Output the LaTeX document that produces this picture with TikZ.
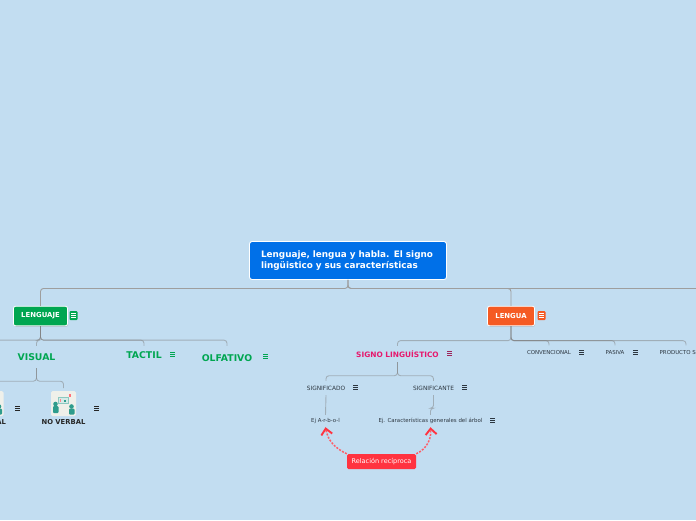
\documentclass[tikz,border=0pt]{standalone}
\usepackage{fontspec}
\setmainfont{DejaVu Sans}
\usetikzlibrary{arrows.meta,shadows}
\definecolor{fondo}{HTML}{C2DDF1}
\definecolor{azul}{HTML}{0070E8}
\definecolor{verde}{HTML}{00A651}
\definecolor{naranja}{HTML}{F55A23}
\definecolor{rosa}{HTML}{E6186D}
\definecolor{rojo}{HTML}{FF3340}
\definecolor{gris}{HTML}{2C3640}
\definecolor{teal}{HTML}{2E9C8C}
\definecolor{papel}{HTML}{EFF0EA}
% small menu mark beside a node
\newcommand{\menumark}[3]{%
  \foreach \k in {-2,0,2}{\draw[#3, line width=0.8pt] (#1-2.5,#2+\k) -- (#1+2.5,#2+\k);}}
\newcommand{\menubox}[3]{%
  \fill[#3, rounded corners=1pt] (#1-4,#2-4.5) rectangle (#1+4,#2+4.5);
  \menumark{#1}{#2}{white}}
% picture card with two people and a board
\newcommand{\cardicon}[3]{%
  \node[card] (#3) at (#1,#2) {};
  \fill[teal] (#1-8,#2+0.5) circle (2.3);
  \fill[teal, rounded corners=1pt] (#1-10.5,#2+9.5) rectangle (#1-5,#2+2.5);
  \fill[teal] (#1+8,#2+3) circle (2.3);
  \fill[teal, rounded corners=1pt] (#1+5.5,#2+11) rectangle (#1+11,#2+5);
  \draw[teal!55, fill=white!80!teal, line width=0.5pt] (#1-5.5,#2-6.5) rectangle (#1+4.5,#2-0.5);
  \fill[rojo!60] (#1-3.5,#2-5) rectangle (#1-2.5,#2-1.5);
  \fill[teal] (#1,#2-4) rectangle (#1+2.5,#2-1.5);
  \fill[rojo!70] (#1+5,#2-9.5) rectangle (#1+7.5,#2-7);}

\begin{document}
\begin{tikzpicture}[x=1pt, y=-1pt, font=\bfseries,
  rootb/.style={draw=white, line width=0.9pt, fill=azul, text=white, rounded corners=2.5pt,
                minimum width=197pt, minimum height=38pt, inner sep=0pt, align=left,
                text width=174pt, font=\bfseries\fontsize{8.85}{11}\selectfont},
  topb/.style={draw=white, line width=0.8pt, text=white, rounded corners=2pt, minimum height=19.5pt,
               inner sep=0pt, drop shadow={opacity=.3, shadow xshift=0.6pt, shadow yshift=-1pt}},
  sense/.style={text=verde, inner sep=0pt, font=\bfseries\fontsize{9.3}{11}\selectfont},
  leaf/.style={text=gris, inner sep=0pt, minimum height=14pt, font=\fontsize{5.45}{7}\selectfont},
  pict/.style={inner sep=0pt, text=black!85, font=\bfseries\fontsize{6.8}{8}\selectfont},
  card/.style={fill=papel, rounded corners=1.5pt, minimum size=25pt, inner sep=0pt, outer sep=3pt},
  trunk/.style={draw=black!38, line width=0.9pt, rounded corners=3pt},
  link/.style={draw=black!50, opacity=.5, line width=0.9pt, rounded corners=3pt},
  recip/.style={draw=rojo!80!white, line width=1.5pt, dash pattern=on 2pt off 1.4pt,
                -{Straight Barb[length=6pt, width=11pt, color=rojo, line width=1.9pt]}}]
\useasboundingbox[fill=fondo] (0,0) rectangle (696,520);

% root and the three first branches
\node[rootb] (root) at (348,260.5) {Lenguaje, lengua y habla. El signo\\lingüistico y sus características};
\node[topb, fill=verde, minimum width=54pt, font=\bfseries\fontsize{6.9}{8}\selectfont] (lenguaje) at (40.5,316) {LENGUAJE};
\node[topb, fill=naranja, minimum width=47pt, font=\bfseries\fontsize{6.9}{8}\selectfont] (lengua) at (511,316) {LENGUA};
\coordinate (habla) at (730,306);
\draw[trunk] (root.south) -- ++(0,8.5) -| (lenguaje.north);
\draw[trunk] (root.south) -- ++(0,8.5) -| (lengua.north);
\draw[trunk] (root.south) -- ++(0,8.5) -| (habla);
\menubox{73.5}{315.5}{verde}
\menubox{541.5}{315.5}{naranja}

% lenguaje
\node[sense, minimum height=22pt] (visual) at (36.5,357) {VISUAL};
\node[sense, minimum height=18pt] (tactil) at (144,355) {TACTIL};
\node[sense, minimum height=24pt] (olfativo) at (227,358) {OLFATIVO};
\coordinate (auditivo) at (-60,346);
\draw[link] (lenguaje.south) -- ++(0,14) -| (auditivo);
\draw[link] (lenguaje.south) -- ++(0,14) -| (visual.north);
\draw[link] (lenguaje.south) -- ++(0,14) -| (tactil.north);
\draw[link] (lenguaje.south) -- ++(0,14) -| (olfativo.north);
\menumark{172.5}{354.5}{verde}
\menumark{265.5}{356.5}{verde}

% verbal / no verbal
\cardicon{-9}{403.5}{verbalcard}
\cardicon{63.5}{403.5}{noverbalcard}
\node[pict] (verbal) at (-9,422) {VERBAL};
\node[pict] (noverbal) at (63.5,422) {NO VERBAL};
\draw[link] (visual.south) -- ++(0,13) -| (verbalcard.north);
\draw[link] (visual.south) -- ++(0,13) -| (noverbalcard.north);
\menumark{17.5}{408}{black!85}
\menumark{96.5}{408}{black!85}

% lengua
\node[inner sep=0pt, minimum height=16pt, text=rosa, font=\bfseries\fontsize{7.4}{9}\selectfont] (signo) at (397.5,354) {SIGNO LINGUÍSTICO};
\node[leaf] (convencional) at (549,352.5) {CONVENCIONAL};
\node[leaf] (pasiva) at (615,352.5) {PASIVA};
\node[leaf] (producto) at (686,352.5) {PRODUCTO SOCIAL};
\draw[link] (lengua.south) -- ++(0,14.5) -| (signo.north);
\draw[link] (lengua.south) -- ++(0,14.5) -| (convencional.north);
\draw[link] (lengua.south) -- ++(0,14.5) -| (pasiva.north);
\draw[link] (lengua.south) -- ++(0,14.5) -| (producto.north);
\menumark{449.5}{353.5}{rosa!60!gris}
\menumark{581.5}{352.5}{gris}
\menumark{635.5}{352.5}{gris}

% signo
\node[leaf, font=\fontsize{5.85}{7}\selectfont] (significado) at (326,388) {SIGNIFICADO};
\node[leaf, font=\fontsize{5.85}{7}\selectfont] (significante) at (433.5,388) {SIGNIFICANTE};
\node[leaf, minimum height=12pt] (ejarbol) at (325.5,421) {Ej A-r-b-o-l};
\node[leaf, minimum height=12pt] (ejcaract) at (430.5,421) {Ej. Características generales del árbol};
\draw[link] (signo.south) -- ++(0,13.5) -| (significado.north);
\draw[link] (signo.south) -- ++(0,13.5) -| (significante.north);
\draw[link] (significado.south) -- (ejarbol.north);
\draw[link] (significante.south) -- ++(0,13) -| (ejcaract.north);
\menumark{355.5}{387.5}{gris}
\menumark{464.5}{387.5}{gris}
\menumark{492.5}{420.5}{gris}

% relacion
\node[fill=rojo, text=white, rounded corners=1.5pt, minimum width=69pt, minimum height=15pt, inner sep=0pt,
      font=\fontsize{6.5}{8}\selectfont] (relacion) at (381.5,461.5) {Relación recíproca};
\draw[recip] (relacion.north west) to[out=155, in=-80] (ejarbol.south);
\draw[recip] (relacion.north east) to[out=25, in=-85] (ejcaract.south);
\end{tikzpicture}
\end{document}
